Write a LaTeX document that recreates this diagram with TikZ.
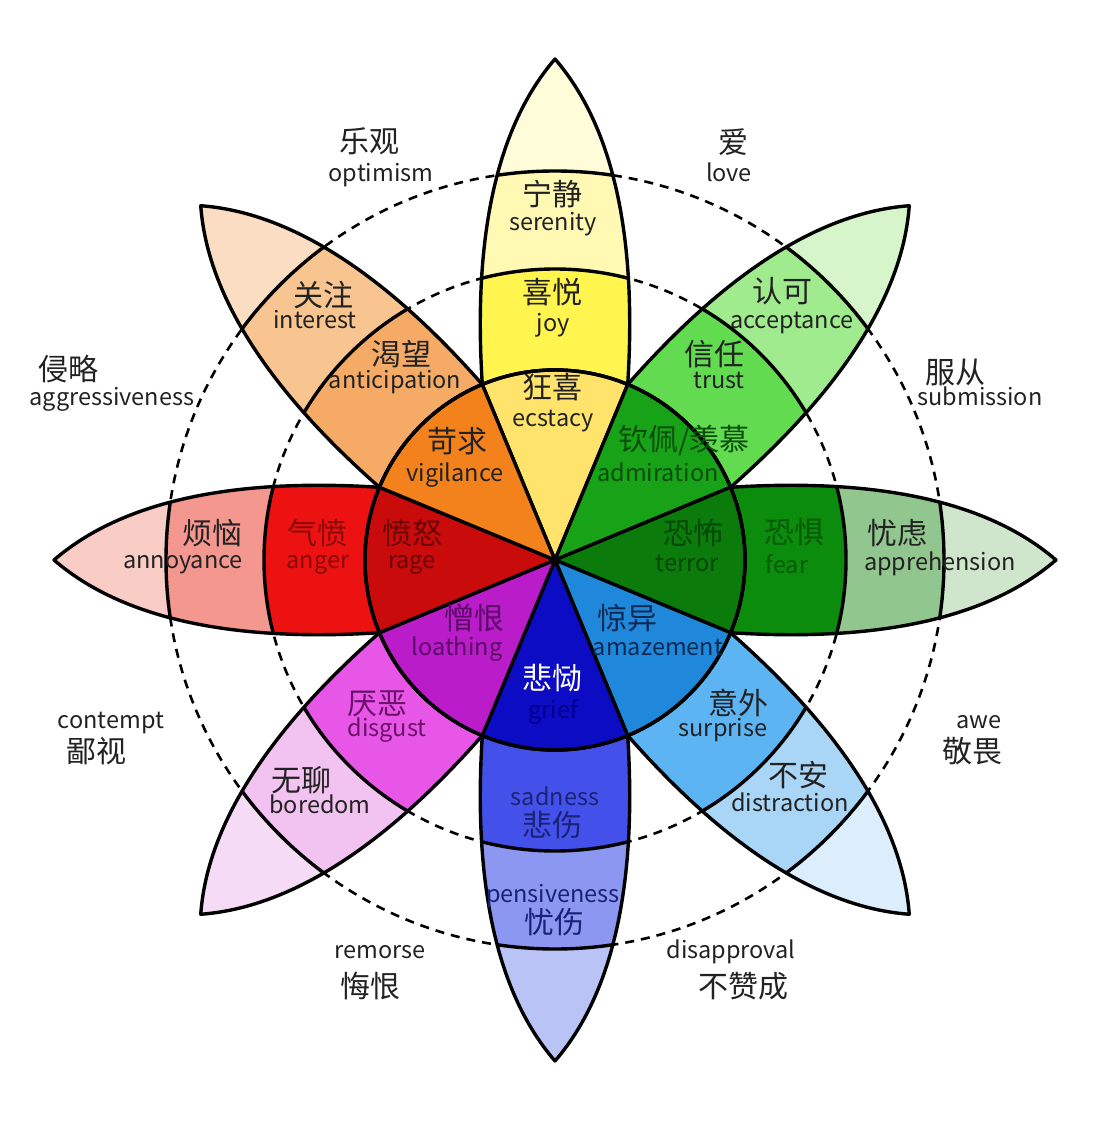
\documentclass[tikz,border=0pt]{standalone}
\usepackage{fontspec}
\setmainfont{Noto Sans CJK SC}
% 花瓣颜色：尖端、外环、中环、内核
\definecolor{joyTip}{HTML}{FFFCDA}
\definecolor{joyOut}{HTML}{FFF9B3}
\definecolor{joyMid}{HTML}{FFF54E}
\definecolor{joyCore}{HTML}{FFE36A}
\definecolor{trustTip}{HTML}{D6F5CA}
\definecolor{trustOut}{HTML}{A0EB8E}
\definecolor{trustMid}{HTML}{62DB50}
\definecolor{trustCore}{HTML}{18A218}
\definecolor{fearTip}{HTML}{CFE6CC}
\definecolor{fearOut}{HTML}{92C68F}
\definecolor{fearMid}{HTML}{0C8C0C}
\definecolor{fearCore}{HTML}{0B7C0B}
\definecolor{surpTip}{HTML}{DCEEFC}
\definecolor{surpOut}{HTML}{A9D5F7}
\definecolor{surpMid}{HTML}{5CB4F2}
\definecolor{surpCore}{HTML}{1F88DA}
\definecolor{sadTip}{HTML}{BAC3F6}
\definecolor{sadOut}{HTML}{8C97F1}
\definecolor{sadMid}{HTML}{4450EA}
\definecolor{sadCore}{HTML}{0C0CC4}
\definecolor{disgTip}{HTML}{F6DBF6}
\definecolor{disgOut}{HTML}{F2C2F0}
\definecolor{disgMid}{HTML}{E856E8}
\definecolor{disgCore}{HTML}{BA1CC9}
\definecolor{angTip}{HTML}{F9CCC6}
\definecolor{angOut}{HTML}{F4978F}
\definecolor{angMid}{HTML}{EC1212}
\definecolor{angCore}{HTML}{C90B0B}
\definecolor{antTip}{HTML}{FBDDC3}
\definecolor{antOut}{HTML}{F8C48F}
\definecolor{antMid}{HTML}{F5AB66}
\definecolor{antCore}{HTML}{F3821C}
% 文字颜色
\definecolor{txt}{HTML}{222222}
\definecolor{angTxt}{HTML}{8A0909}
\definecolor{rageTxt}{HTML}{6A0505}
\definecolor{fearTxt}{HTML}{065C06}
\definecolor{terrTxt}{HTML}{054805}
\definecolor{admTxt}{HTML}{0A4E0A}
\definecolor{loaTxt}{HTML}{5A0868}
\definecolor{amzTxt}{HTML}{0D2A55}
\definecolor{griefTxt}{HTML}{00008A}
\definecolor{disgTxt}{HTML}{6A106A}
\definecolor{sadTxt}{HTML}{1A2275}
\begin{document}
\begin{tikzpicture}[x=1pt, y=1pt,
    ring/.style={line width=3.4pt, line join=round},
    dashring/.style={line width=2.6pt, dash pattern=on 9pt off 7pt},
    zh/.style={font=\fontsize{30}{30}\selectfont, text=txt, inner sep=0pt, anchor=base, yshift=-12pt},
    en/.style={font=\fontsize{23.5}{23.5}\selectfont, text=txt, inner sep=0pt, anchor=base, yshift=-8.5pt}]
    \def\rA{190}
    \def\rB{291}
    \def\rC{389}
    \def\rT{501}
    \def\petalpath{(-22.5:\rA) .. controls (290,-80) and (420,-70) .. (\rT,0)
        .. controls (420,70) and (290,80) .. (22.5:\rA)
        arc[start angle=22.5, end angle=-22.5, radius=\rA] -- cycle}
    \def\petal#1#2#3#4{%
        \begin{scope}[rotate=#1]
            \fill[#2] \petalpath;
            \begin{scope}
                \clip \petalpath;
                \fill[#3] (0,0) circle (\rC);
                \fill[#4] (0,0) circle (\rB);
                \draw[ring] (0,0) circle (\rC) (0,0) circle (\rB);
            \end{scope}
            \draw[ring] \petalpath;
        \end{scope}}
    \def\core#1#2{%
        \filldraw[ring, fill=#2, rotate=#1] (0,0) -- (-22.5:\rA)
            arc[start angle=-22.5, end angle=22.5, radius=\rA] -- cycle;}
    \useasboundingbox (-555,-562) rectangle (553,560);
    % 虚线圆
    \draw[dashring] (0,0) circle (\rB);
    \draw[dashring] (0,0) circle (\rC);
    % 八片花瓣
    \petal{90}{joyTip}{joyOut}{joyMid}
    \petal{45}{trustTip}{trustOut}{trustMid}
    \petal{0}{fearTip}{fearOut}{fearMid}
    \petal{-45}{surpTip}{surpOut}{surpMid}
    \petal{-90}{sadTip}{sadOut}{sadMid}
    \petal{-135}{disgTip}{disgOut}{disgMid}
    \petal{180}{angTip}{angOut}{angMid}
    \petal{135}{antTip}{antOut}{antMid}
    % 内圈
    \core{90}{joyCore}
    \core{45}{trustCore}
    \core{0}{fearCore}
    \core{-45}{surpCore}
    \core{-90}{sadCore}
    \core{-135}{disgCore}
    \core{180}{angCore}
    \core{135}{antCore}
    \draw[ring] (0,0) circle (\rA);
    % 喜悦
    \node[zh] (serenityZh) at (-2,366) {宁静};
    \node[en] (serenity) at (-2,338) {serenity};
    \node[zh] (joyZh) at (-2,268) {喜悦};
    \node[en] (joy) at (-2,237) {joy};
    \node[zh] (ecstacyZh) at (-2,173) {狂喜};
    \node[en] (ecstacy) at (-2,142) {ecstacy};
    % 期待
    \node[zh] (interestZh) at (-231,265) {关注};
    \node[en] (interest) at (-240,240) {interest};
    \node[zh] (anticipationZh) at (-153,206) {渴望};
    \node[en] (anticipation) at (-160,180) {anticipation};
    \node[zh] (vigilanceZh) at (-97,119) {苛求};
    \node[en] (vigilance) at (-100,87) {vigilance};
    % 信任
    \node[zh] (acceptanceZh) at (227,269) {认可};
    \node[en] (acceptance) at (237,240) {acceptance};
    \node[zh] (trustZh) at (159,206) {信任};
    \node[en] (trust) at (164,180) {trust};
    \node[zh, text=admTxt] (admirationZh) at (129,122) {钦佩/羡慕};
    \node[en, text=admTxt] (admiration) at (103,87) {admiration};
    % 愤怒
    \node[zh] (annoyanceZh) at (-342,28) {烦恼};
    \node[en] (annoyance) at (-372,0) {annoyance};
    \node[zh, text=angTxt] (angerZh) at (-237,28) {气愤};
    \node[en, text=angTxt] (anger) at (-237,0) {anger};
    \node[zh, text=rageTxt] (rageZh) at (-142,28) {愤怒};
    \node[en, text=rageTxt] (rage) at (-143,0) {rage};
    % 恐惧
    \node[zh, text=terrTxt] (terrorZh) at (138,28) {恐怖};
    \node[en, text=terrTxt] (terror) at (132,-3) {terror};
    \node[zh, text=fearTxt] (fearZh) at (239,29) {恐惧};
    \node[en, text=fearTxt] (fear) at (232,-5) {fear};
    \node[zh] (apprehensionZh) at (342,28) {忧虑};
    \node[en] (apprehension) at (385,-2) {apprehension};
    % 厌恶
    \node[zh, text=loaTxt] (loathingZh) at (-80,-57) {憎恨};
    \node[en, text=loaTxt] (loathing) at (-98,-87) {loathing};
    \node[zh, text=disgTxt] (disgustZh) at (-177,-142) {厌恶};
    \node[en, text=disgTxt] (disgust) at (-168,-168) {disgust};
    \node[zh] (boredomZh) at (-253,-219) {无聊};
    \node[en] (boredom) at (-235,-245) {boredom};
    % 惊讶
    \node[zh, text=amzTxt] (amazementZh) at (72,-57) {惊异};
    \node[en, text=amzTxt] (amazement) at (103,-87) {amazement};
    \node[zh] (surpriseZh) at (183,-142) {意外};
    \node[en] (surprise) at (168,-168) {surprise};
    \node[zh] (distractionZh) at (243,-214) {不安};
    \node[en] (distraction) at (235,-243) {distraction};
    % 悲伤
    \node[zh, text=white] (griefZh) at (-2,-117) {悲恸};
    \node[en, text=griefTxt] (grief) at (-2,-150) {grief};
    \node[en, text=sadTxt] (sadness) at (0,-237) {sadness};
    \node[zh, text=sadTxt] (sadnessZh) at (-2,-264) {悲伤};
    \node[en, text=sadTxt] (pensiveness) at (-2,-334) {pensiveness};
    \node[zh, text=sadTxt] (pensivenessZh) at (0,-361) {忧伤};
    % 外圈组合情绪
    \node[zh] (optimismZh) at (-185,419) {乐观};
    \node[en] (optimism) at (-174,387) {optimism};
    \node[zh] (loveZh) at (178,418) {爱};
    \node[en] (love) at (174,387) {love};
    \node[zh] (aggressZh) at (-486,191) {侵略};
    \node[en] (aggress) at (-443,163) {aggressiveness};
    \node[zh] (submissionZh) at (400,188) {服从};
    \node[en] (submission) at (425,163) {submission};
    \node[en] (contempt) at (-444,-160) {contempt};
    \node[zh] (contemptZh) at (-458,-190) {鄙视};
    \node[en] (awe) at (424,-160) {awe};
    \node[zh] (aweZh) at (417,-190) {敬畏};
    \node[en] (remorse) at (-175,-390) {remorse};
    \node[zh] (remorseZh) at (-184,-425) {悔恨};
    \node[en] (disapproval) at (176,-390) {disapproval};
    \node[zh] (disapprovalZh) at (188,-425) {不赞成};
\end{tikzpicture}
\end{document}
